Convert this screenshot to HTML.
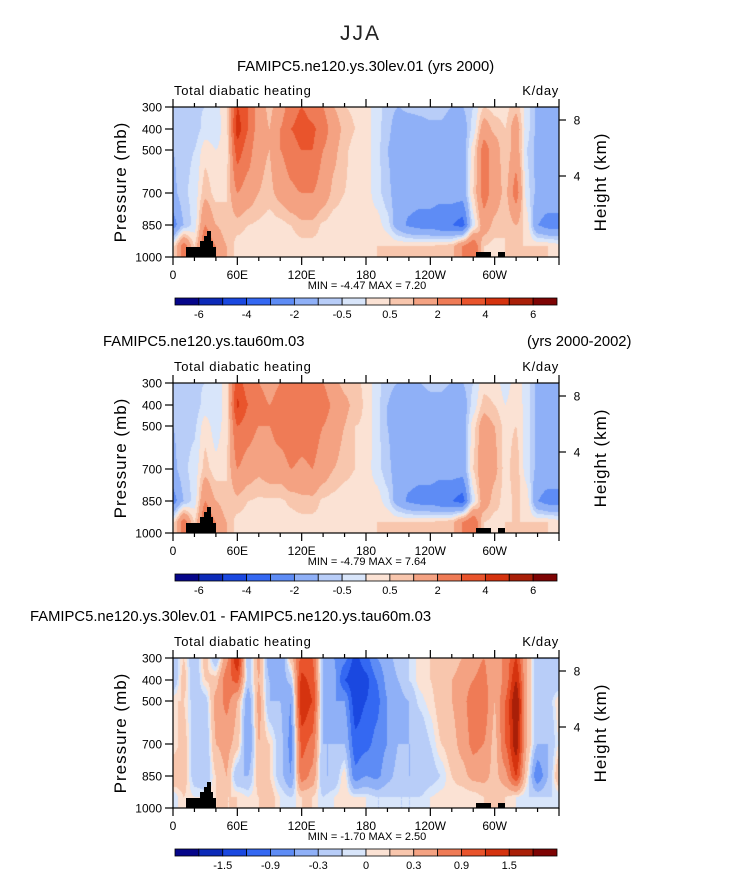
<!DOCTYPE html>
<html><head><meta charset="utf-8"><style>
html,body{margin:0;padding:0;background:#fff;}
body{width:733px;height:888px;position:relative;overflow:hidden;font-family:"Liberation Sans",sans-serif;color:#000;}
.t{position:absolute;white-space:nowrap;}
</style></head><body>
<svg id="svg" width="733" height="888" style="position:absolute;left:0;top:0"></svg>
<script>
// ---- data ----
const lons = [0,10,20,30,40,50,60,70,80,90,100,110,120,130,140,150,160,170,180,190,200,210,220,230,240,250,260,270,280,290,300,310,320,330,340,350,360];
const levels = [300,400,500,700,850,950,1000];
const field1 = [
[-1,-1,-1,-1.2,-2.5,0.3],[-0.8,-1,-0.7,-0.6,-1,2.5],[-0.6,-0.8,-0.5,-0.3,-0.3,0.5],[-0.5,-0.3,0.3,0.8,2,3],
[-0.3,-0.3,0,0.3,1,2],[0.5,0.3,0.3,0.5,0.5,1],[4,4.5,3.5,2,0.7,0.3],[3,3,2.5,1.5,0.5,0.3],
[1.5,1.5,1.2,1,0.4,0.3],[0.8,1,1,0.8,0.2,0.3],[1.5,2,2,1.3,0.3,0.3],[2.5,3,2.5,1.8,0.5,0.3],
[3,3.5,3,2,0.8,0.3],[2.5,3.2,3,2,0.8,0.3],[2,2.5,2,1.5,0.4,0.3],[1,1.5,1.2,0.8,0.2,0.3],
[0.5,0.8,0.6,0.5,0.2,0.3],[0.4,0.5,0.3,0.3,0.2,0.3],[0.3,0.3,0.3,0.3,0.3,0.4],[-0.3,-0.3,-0.3,-0.3,0.3,0.5],
[-0.7,-0.8,-1,-0.8,-0.3,0.5],[-1,-1.5,-1.5,-1.5,-1.5,0.5],[-0.8,-1.5,-1.5,-1.5,-2.2,0.5],[-0.8,-1.3,-1.5,-1.5,-2.5,0.5],
[-0.7,-1.2,-1.5,-1.5,-2.5,0.5],[-0.7,-1.2,-1.5,-1.5,-3,0.7],[-1,-1.5,-1.5,-1.5,-3,0.8],[-1,-1.5,-1.5,-1.5,-3.5,2],
[-0.5,-0.3,0.3,0.5,-0.3,3],[0.5,1.5,2.5,2.5,1.5,0.5],[0.3,0.8,1.5,1.5,0.8,0.3],[0.3,0.5,0.5,0.8,0.5,0.5],
[0.8,1.5,1.5,2.5,1,0.5],[-0.3,-0.3,-0.5,-0.3,0.3,0.5],[-1.2,-1.2,-1.2,-1.2,-2,0.5],[-1.2,-1.2,-1.2,-1.2,-2.5,0.5],
[-1,-1,-1,-1.2,-2.5,0.3]];
const field2 = [
[-1,-1,-1,-1.2,-2.5,0.3],[-0.8,-1,-0.7,-0.6,-1,2.5],[-0.6,-0.8,-0.6,-0.3,-0.3,0.5],[-0.5,-0.3,0.3,0.7,2,3],
[-0.5,-0.5,-0.3,0.2,1,2],[0.3,0.3,0.3,0.5,0.5,1],[3.5,4.2,3,2,0.8,0.3],[2.5,3,2.5,1.5,0.5,0.3],
[2,2.5,2,1.2,0.4,0.3],[1.5,2,2,1.5,0.4,0.3],[2,2.5,2.5,1.5,0.4,0.3],[2.5,3,2.8,2,0.6,0.3],
[2.5,3,2.5,1.8,0.8,0.3],[2,3,2.5,2,0.8,0.3],[2,2.5,2,1.5,0.4,0.3],[1.2,1.8,1.5,1,0.3,0.3],
[0.8,1.2,1,0.7,0.2,0.3],[0.6,0.8,0.5,0.5,0.2,0.3],[0.4,0.4,0.4,0.3,0.3,0.4],[-0.3,-0.3,-0.3,-0.3,0.3,0.5],
[-0.8,-1,-1,-0.8,-0.3,0.5],[-1,-1.5,-1.5,-1.5,-1.5,0.5],[-1,-1.5,-1.5,-1.5,-2.2,0.5],[-1,-1.5,-1.5,-1.5,-2.5,0.5],
[-0.8,-1.3,-1.5,-1.5,-2.5,0.5],[-0.8,-1.3,-1.5,-1.5,-3,0.7],[-1,-1.5,-1.5,-1.5,-3,0.8],[-1,-1.5,-1.5,-1.5,-3.5,2],
[-0.5,-0.3,0.3,0.5,-0.3,3],[0.3,0.7,1.5,1.8,1.5,0.5],[0.3,0.5,1,1.2,0.7,0.3],[-0.3,0,0.3,0.3,0.3,0.5],
[0.3,0.5,0.5,0.8,0.6,0.5],[-0.3,-0.3,-0.3,-0.3,0.3,0.5],[-1.2,-1.2,-1.2,-1.2,-2,0.5],[-1.2,-1.2,-1.2,-1.2,-2.5,0.5],
[-1,-1,-1,-1.2,-2.5,0.3]];
const field3 = [
[-0.3,-0.3,0.1,0,0.3,-0.1],[0.1,0.2,0.1,0.2,0.2,0.1],[-0.3,-0.3,-0.2,-0.2,-0.2,0],[0.2,0.1,-0.2,-0.3,-0.3,0],
[-0.3,0.2,0.4,0.3,0.1,0.1],[0.5,0.8,0.7,0.4,0.3,0.1],[1.5,1,0.3,0.2,-0.3,0.1],[-0.3,-0.2,-0.5,-0.6,-0.3,0],
[0.4,0.3,0.4,0.3,0.2,0.1],[-0.5,-0.3,-0.3,0.1,0.1,0.2],[-0.6,-0.5,-0.3,-0.2,-0.2,0],[0.2,-0.2,-0.6,-0.7,-0.6,-0.1],
[1,1.3,1.5,1,0.8,0.1],[0.9,1.1,1.2,0.8,0.5,0.1],[-0.3,-0.3,-0.3,-0.3,-0.3,-0.1],[-0.6,-0.5,-0.6,-0.3,-0.3,0],
[-0.8,-1.2,-0.6,-0.3,0.1,0.1],[-1.3,-1.5,-1.4,-1.1,-0.8,0],[-1,-1.3,-1.2,-1,-0.6,0],[-0.6,-0.9,-1,-0.8,-0.7,-0.1],
[-0.4,-0.5,-0.6,-0.6,-0.4,-0.1],[-0.2,-0.3,-0.4,-0.3,-0.2,-0.1],[-0.1,-0.1,-0.3,-0.3,-0.3,-0.1],[0.05,0.05,-0.05,-0.3,-0.3,-0.1],
[0.1,0.1,0.05,-0.1,-0.2,0],[0.2,0.2,0.2,0.1,-0.1,0.05],[0.2,0.3,0.3,0.2,0.1,0.05],[0.3,0.4,0.5,0.4,0.2,0],
[0.5,0.6,0.8,0.7,0.4,0],[0.6,0.7,0.8,0.6,0.4,0.1],[0.3,0.3,0.3,0.2,0.2,0.1],[0.7,0.7,0.9,0.9,0.5,0.1],
[1.2,1.5,1.8,1.7,1.2,0],[0.3,0.3,0.3,0.3,0.1,-0.1],[-0.3,-0.3,-0.3,-0.3,-0.9,-0.1],[-0.3,-0.3,-0.2,-0.3,-0.3,-0.1],
[-0.3,-0.3,0.1,0,0.3,-0.1]];
const contours12 = [-6,-5,-4,-3,-2,-1,-0.5,0,0.5,1,2,3,4,5,6];
const contours3 = [-1.8,-1.5,-1.2,-0.9,-0.6,-0.3,-0.1,0,0.1,0.3,0.6,0.9,1.2,1.5,1.8];
const cbLabels12 = ["-6","-4","-2","-0.5","0.5","2","4","6"];
const cbLabels3 = ["-1.5","-0.9","-0.3","0","0.3","0.9","1.5"];
const xTickLabels = ["0","60E","120E","180","120W","60W"];
const pTicks = [300,400,500,700,850,1000];
const hTicks = [8,4];
const colors = ["#06068a","#0c2ab8","#1a48e0","#3468f2","#5e8cf5","#8fb0f7","#b8cdf8","#d8e5fa","#fbe2d4","#f8c6ad","#f4a282","#ef7b56","#e9542c","#d5330f","#a91f08","#7e0404"];

// ---- layout ----
const PX0=173, PW=386, PH=150;
const panelTops=[107,383,658];
const pPix={300:0,400:22,500:43,700:86,850:118,950:139,1000:150};
function xLon(l){return PX0+l/360*PW;}
function yP(p){
  const ks=[300,400,500,700,850,950,1000];
  for(let i=0;i<ks.length-1;i++){ if(p<=ks[i+1]){const t=(p-ks[i])/(ks[i+1]-ks[i]);return pPix[ks[i]]+t*(pPix[ks[i+1]]-pPix[ks[i]]);} }
  return PH;
}
const NS="http://www.w3.org/2000/svg";
const svg=document.getElementById('svg');
function el(tag,attrs,parent){const e=document.createElementNS(NS,tag);for(const k in attrs)e.setAttribute(k,attrs[k]);(parent||svg).appendChild(e);return e;}
function txt(x,y,s,size,anchor,parent,extra){const e=el('text',Object.assign({x:x,y:y,'font-size':size,'text-anchor':anchor||'start','font-family':'Liberation Sans, sans-serif'},extra||{}),parent);e.textContent=s;return e;}

function valueAt(field,lon,p){
  let i=Math.min(Math.floor(lon/10),35); let tx=(lon-lons[i])/10;
  tx=tx*tx*(3-2*tx)*0.5+tx*0.5;
  const rows=levels; let j=0; while(j<rows.length-2 && p>rows[j+1]) j++;
  const ty=Math.min(1,(p-rows[j])/(rows[j+1]-rows[j]));
  const g=(a,b)=>field[a][Math.min(b,5)];
  const v0=g(i,j)*(1-tx)+g(i+1,j)*tx, v1=g(i,j+1)*(1-tx)+g(i+1,j+1)*tx;
  return v0*(1-ty)+v1*ty;
}
function pAtY(y){ const ks=[300,400,500,700,850,950,1000];
  for(let i=0;i<ks.length-1;i++){const a=pPix[ks[i]],b=pPix[ks[i+1]]; if(y<=b){return ks[i]+(y-a)/(b-a)*(ks[i+1]-ks[i]);}} return 1000;}
function colorIdx(v,cs){let k=0;while(k<cs.length&&v>=cs[k])k++;return k;}

function drawPanel(idx,field,contours,labels,labelAt,minmax){
  const top=panelTops[idx];
  const g=el('g',{});
  
  
  const fo=el('foreignObject',{x:PX0,y:top,width:PW,height:PH},g);
  const cv=document.createElement('canvas');cv.width=PW;cv.height=PH;cv.style.display='block';
  fo.appendChild(cv);
  
  
  const ctx=cv.getContext('2d');const im=ctx.createImageData(PW,PH);
  const rgb=colors.map(c=>[parseInt(c.slice(1,3),16),parseInt(c.slice(3,5),16),parseInt(c.slice(5,7),16)]);
  for(let y=0;y<PH;y++){const p=pAtY(y+0.5);
    for(let x=0;x<PW;x++){const lon=(x+0.5)/PW*360;const v=valueAt(field,lon,p);const c=rgb[colorIdx(v,contours)];
      const o=(y*PW+x)*4;im.data[o]=c[0];im.data[o+1]=c[1];im.data[o+2]=c[2];im.data[o+3]=255;}}
  ctx.putImageData(im,0,0);
  const topo=[[186,247,14],[200,241,4],[204,236,3],[207,231,4],[211,241,2],[213,247,3],[476,252,15],[498,252,7]];
  topo.forEach(t=>{const r=el('rect',{x:t[0],y:top+(t[1]-107),width:t[2],height:257-t[1],fill:'#000'},g);
    });
  el('rect',{x:PX0,y:top,width:PW,height:PH,fill:'none',stroke:'#000','stroke-width':1.2},g);
  for(let l=0;l<=360;l+=20){const x=xLon(l);const major=l%60===0;const len=major?8:4;
    el('line',{x1:x,y1:top,x2:x,y2:top-len,stroke:'#000','stroke-width':1.2},g);
    el('line',{x1:x,y1:top+PH,x2:x,y2:top+PH+len,stroke:'#000','stroke-width':1.2},g);}
  xTickLabels.forEach((s,i)=>{const t=txt(xLon(i*60),top+PH+22,s,12,'middle',g);});
  pTicks.forEach(p=>{const y=top+yP(p);el('line',{x1:PX0,y1:y,x2:PX0-8,y2:y,stroke:'#000','stroke-width':1.2},g);
    const t=txt(PX0-11,y+4.5,String(p),12,'end',g);});
  hTicks.forEach(h=>{const y=top+(h===8?13:69);el('line',{x1:PX0+PW,y1:y,x2:PX0+PW+7,y2:y,stroke:'#000','stroke-width':1.2},g);
    txt(PX0+PW+18,y+4.5,String(h),12,'middle',g);});
  const a=txt(174,top-12,'Total diabatic heating',13,'start',g,{'letter-spacing':'0.7'});
  const u=txt(559,top-12,'K/day',13,'end',g,{'letter-spacing':'0.7'});
  const yl=txt(0,0,'Pressure (mb)',17,'middle',g,{transform:'translate('+126+','+(top+75)+') rotate(-90)','letter-spacing':'1'});
  
  const hl=txt(0,0,'Height (km)',17,'middle',g,{transform:'translate('+606+','+(top+75)+') rotate(-90)','letter-spacing':'1'});
  
  const mm=txt(367,top+PH+32,minmax,11,'middle',g,{'xml:space':'preserve'});
  const cy=top+191, cx=175, cw=382/16;
  colors.forEach((c,i)=>{const r=el('rect',{x:cx+i*cw,y:cy,width:cw,height:7,fill:c,stroke:'#000','stroke-width':0.8},g);
    });
  labels.forEach((s,i)=>{const t=txt(cx+labelAt[i]*cw,cy+20,s,11,'middle',g);});
}
drawPanel(0,field1,contours12,cbLabels12,[1,3,5,7,9,11,13,15],'MIN =   -4.47   MAX =     7.20');
drawPanel(1,field2,contours12,cbLabels12,[1,3,5,7,9,11,13,15],'MIN =   -4.79   MAX =     7.64');
drawPanel(2,field3,contours3,cbLabels3,[2,4,6,8,10,12,14],'MIN =   -1.70   MAX =     2.50');
</script>
<div class="t" style="left:340px;top:22px;font-size:21px;letter-spacing:2px;color:#222">JJA</div>
<div class="t" style="left:237px;top:59px;font-size:14.8px">FAMIPC5.ne120.ys.30lev.01 (yrs 2000)</div>
<div class="t" style="left:103px;top:334px;font-size:14.8px">FAMIPC5.ne120.ys.tau60m.03</div>
<div class="t" style="left:527px;top:334px;font-size:14.8px">(yrs 2000-2002)</div>
<div class="t" style="left:30px;top:609px;font-size:14.8px">FAMIPC5.ne120.ys.30lev.01 - FAMIPC5.ne120.ys.tau60m.03</div>
</body></html>
